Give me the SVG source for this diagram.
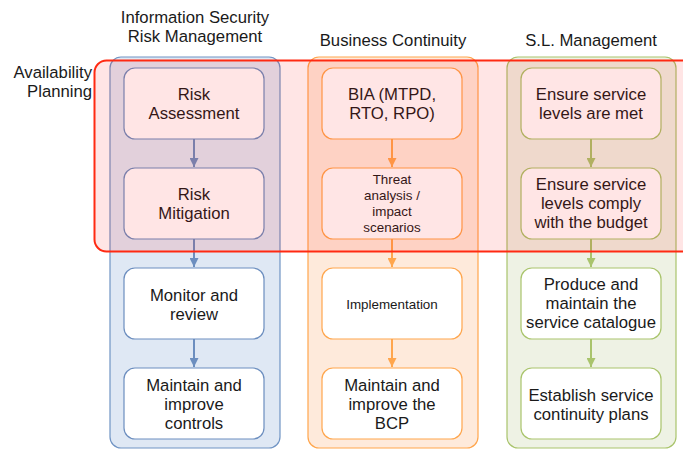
<svg xmlns="http://www.w3.org/2000/svg" width="683" height="450" viewBox="0 0 683 450">
<defs>
<style>
text{font-family:"Liberation Sans",Arial,Helvetica,sans-serif;fill:#1a1a1a;text-anchor:middle}
.t16{font-size:16.7px}
.t13{font-size:13.4px}
.col-b{fill:#dfe8f4;stroke:#7094c4;stroke-width:1.2}
.col-o{fill:#feeadb;stroke:#ffa64d;stroke-width:1.2}
.col-g{fill:#eef2e4;stroke:#a9c46c;stroke-width:1.2}
.n-b{fill:#fff;stroke:#6c8ebf;stroke-width:1.2}
.n-o{fill:#fff;stroke:#ffa64d;stroke-width:1.2}
.n-g{fill:#fff;stroke:#a9c46c;stroke-width:1.2}
.e-b{stroke:#6c8ebf;stroke-width:2;fill:none}
.e-o{stroke:#ffa64d;stroke-width:2;fill:none}
.e-g{stroke:#a9c46c;stroke-width:2;fill:none}
</style>
<marker id="ab" viewBox="0 0 10 10" refX="10" refY="5" markerWidth="4.5" markerHeight="4.5" orient="auto" markerUnits="strokeWidth"><path d="M0,0 L10,5 L0,10 z" fill="#6c8ebf"/></marker>
<marker id="ao" viewBox="0 0 10 10" refX="10" refY="5" markerWidth="4.5" markerHeight="4.5" orient="auto" markerUnits="strokeWidth"><path d="M0,0 L10,5 L0,10 z" fill="#ffa64d"/></marker>
<marker id="ag" viewBox="0 0 10 10" refX="10" refY="5" markerWidth="4.5" markerHeight="4.5" orient="auto" markerUnits="strokeWidth"><path d="M0,0 L10,5 L0,10 z" fill="#a9c46c"/></marker>
</defs>

<g id="col-isrm">
<rect class="col-b" x="110" y="57" width="170" height="391" rx="11"/>
<text class="t16" x="195" y="23">Information Security</text>
<text class="t16" x="195" y="42">Risk Management</text>
</g>
<g id="col-bc">
<rect class="col-o" x="308" y="57" width="170" height="391" rx="11"/>
<text class="t16" x="393" y="46">Business Continuity</text>
</g>
<g id="col-slm">
<rect class="col-g" x="507" y="57" width="169" height="391" rx="11"/>
<text class="t16" x="591" y="46">S.L. Management</text>
</g>

<g id="connectors">
<line class="e-b" x1="194" y1="139" x2="194" y2="167" marker-end="url(#ab)"/>
<line class="e-b" x1="194" y1="239" x2="194" y2="267" marker-end="url(#ab)"/>
<line class="e-b" x1="194" y1="339" x2="194" y2="367" marker-end="url(#ab)"/>
<line class="e-o" x1="392" y1="139" x2="392" y2="167" marker-end="url(#ao)"/>
<line class="e-o" x1="392" y1="239" x2="392" y2="267" marker-end="url(#ao)"/>
<line class="e-o" x1="392" y1="339" x2="392" y2="367" marker-end="url(#ao)"/>
<line class="e-g" x1="591" y1="139" x2="591" y2="167" marker-end="url(#ag)"/>
<line class="e-g" x1="591" y1="239" x2="591" y2="267" marker-end="url(#ag)"/>
<line class="e-g" x1="591" y1="339" x2="591" y2="367" marker-end="url(#ag)"/>
</g>

<g id="risk-assessment">
<rect class="n-b" x="124" y="68" width="140" height="71" rx="11"/>
<text class="t16" x="194" y="100">Risk</text>
<text class="t16" x="194" y="119">Assessment</text>
</g>
<g id="risk-mitigation">
<rect class="n-b" x="124" y="168" width="140" height="71" rx="11"/>
<text class="t16" x="194" y="200">Risk</text>
<text class="t16" x="194" y="219">Mitigation</text>
</g>
<g id="monitor-review">
<rect class="n-b" x="124" y="268" width="140" height="71" rx="11"/>
<text class="t16" x="194" y="301">Monitor and</text>
<text class="t16" x="194" y="320">review</text>
</g>
<g id="maintain-controls">
<rect class="n-b" x="124" y="368" width="140" height="71" rx="11"/>
<text class="t16" x="194" y="391">Maintain and</text>
<text class="t16" x="194" y="410">improve</text>
<text class="t16" x="194" y="429">controls</text>
</g>

<g id="bia">
<rect class="n-o" x="322" y="68" width="140" height="71" rx="11"/>
<text class="t16" x="392" y="100">BIA (MTPD,</text>
<text class="t16" x="392" y="119">RTO, RPO)</text>
</g>
<g id="threat-analysis">
<rect class="n-o" x="322" y="168" width="140" height="71" rx="11"/>
<text class="t13" x="392" y="184">Threat</text>
<text class="t13" x="392" y="200">analysis /</text>
<text class="t13" x="392" y="216">impact</text>
<text class="t13" x="392" y="232">scenarios</text>
</g>
<g id="implementation">
<rect class="n-o" x="322" y="268" width="140" height="71" rx="11"/>
<text class="t13" x="392" y="309">Implementation</text>
</g>
<g id="maintain-bcp">
<rect class="n-o" x="322" y="368" width="140" height="71" rx="11"/>
<text class="t16" x="392" y="391">Maintain and</text>
<text class="t16" x="392" y="410">improve the</text>
<text class="t16" x="392" y="429">BCP</text>
</g>

<g id="ensure-met">
<rect class="n-g" x="521" y="68" width="140" height="71" rx="11"/>
<text class="t16" x="591" y="100">Ensure service</text>
<text class="t16" x="591" y="119">levels are met</text>
</g>
<g id="ensure-budget">
<rect class="n-g" x="521" y="168" width="140" height="71" rx="11"/>
<text class="t16" x="591" y="190">Ensure service</text>
<text class="t16" x="591" y="209">levels comply</text>
<text class="t16" x="591" y="228">with the budget</text>
</g>
<g id="service-catalogue">
<rect class="n-g" x="521" y="268" width="140" height="71" rx="11"/>
<text class="t16" x="591" y="290">Produce and</text>
<text class="t16" x="591" y="309">maintain the</text>
<text class="t16" x="591" y="328">service catalogue</text>
</g>
<g id="continuity-plans">
<rect class="n-g" x="521" y="368" width="140" height="71" rx="11"/>
<text class="t16" x="591" y="401">Establish service</text>
<text class="t16" x="591" y="420">continuity plans</text>
</g>

<g id="availability-planning">
<rect x="94.5" y="60.5" width="620" height="191" rx="12" fill="#ff0000" fill-opacity="0.1" stroke="#ff2a12" stroke-width="2"/>
<text class="t16" x="92" y="78" style="text-anchor:end">Availability</text>
<text class="t16" x="92" y="97" style="text-anchor:end">Planning</text>
</g>
</svg>
